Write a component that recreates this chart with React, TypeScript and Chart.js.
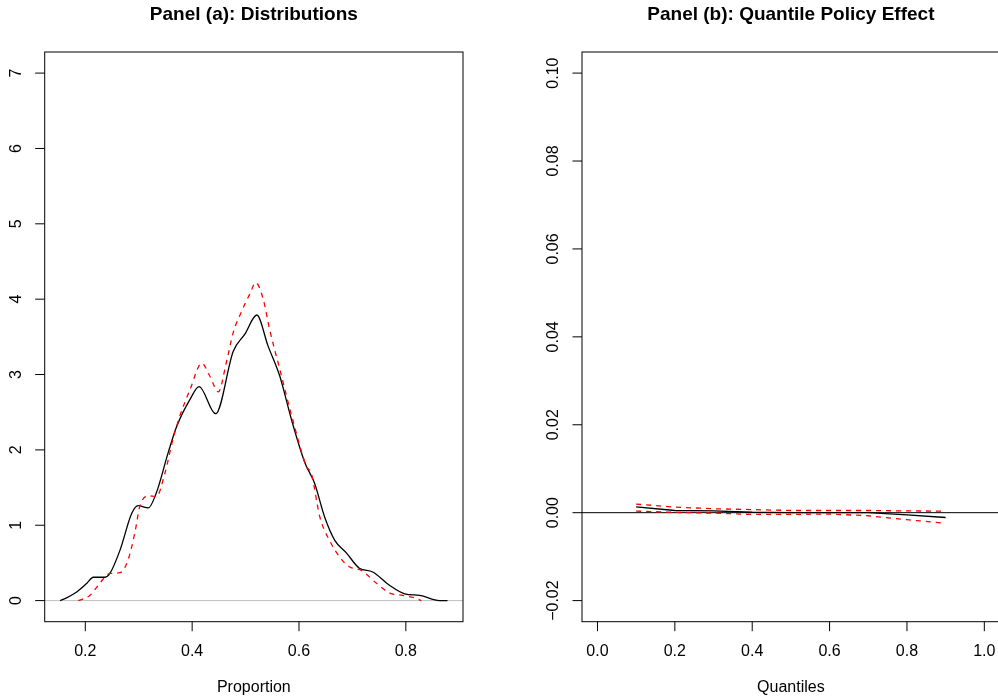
import { useEffect, useRef } from "react";
import { Chart, registerables } from "chart.js";
Chart.register(...registerables);

const FONT = '"Liberation Sans", Arial, Helvetica, sans-serif';

// ---------- Panel (a) data ----------
const baselineX = [0.153, 0.162, 0.181, 0.203, 0.215, 0.237, 0.246, 0.265, 0.287, 0.299, 0.318, 0.333, 0.355, 0.371, 0.396, 0.413, 0.444, 0.477, 0.499, 0.521, 0.542, 0.564, 0.586, 0.611, 0.629, 0.648, 0.667, 0.689, 0.713, 0.738, 0.770, 0.798, 0.826, 0.863, 0.878];
const baselineY = [0, 0.027, 0.10, 0.23, 0.31, 0.31, 0.36, 0.67, 1.16, 1.26, 1.23, 1.43, 1.96, 2.31, 2.67, 2.84, 2.48, 3.31, 3.54, 3.79, 3.38, 2.98, 2.40, 1.83, 1.56, 1.11, 0.80, 0.63, 0.43, 0.38, 0.20, 0.09, 0.07, 0.0, 0];
const policyX = [0.187, 0.195, 0.209, 0.227, 0.246, 0.265, 0.280, 0.293, 0.302, 0.318, 0.333, 0.349, 0.364, 0.377, 0.396, 0.418, 0.433, 0.449, 0.464, 0.477, 0.492, 0.508, 0.519, 0.533, 0.545, 0.564, 0.589, 0.614, 0.623, 0.639, 0.657, 0.676, 0.694, 0.717, 0.745, 0.770, 0.794, 0.819, 0.829];
const policyY = [0, 0.02, 0.07, 0.23, 0.36, 0.37, 0.54, 0.91, 1.25, 1.39, 1.38, 1.69, 2.14, 2.45, 2.80, 3.15, 2.98, 2.77, 3.16, 3.56, 3.83, 4.07, 4.22, 4.00, 3.60, 3.07, 2.38, 1.78, 1.69, 1.11, 0.80, 0.58, 0.45, 0.40, 0.23, 0.10, 0.07, 0.03, 0];

// ---------- Panel (b) data ----------
const quantiles = [0.1, 0.2, 0.3, 0.4, 0.5, 0.6, 0.7, 0.8, 0.9];
const effect = [0.0013, 0.0005, 0.0004, 0.0001, 0.0, 0.0, 0.0, -0.0005, -0.0011];
const upperBand = [0.00195, 0.00127, 0.0009, 0.0007, 0.0005, 0.0005, 0.0005, 0.0004, 0.00036];
const lowerBand = [0.00036, 0.00007, -0.0001, -0.0004, -0.0004, -0.0003, -0.0007, -0.0016, -0.0024];

// ---------- Text / ticks ----------
const panelATitle = "Panel (a): Distributions";
const panelBTitle = "Panel (b): Quantile Policy Effect";
const panelAXLabel = "Proportion";
const panelBXLabel = "Quantiles";
const panelAXTicks = [0.2, 0.4, 0.6, 0.8];
const panelAXTickLabels = ["0.2", "0.4", "0.6", "0.8"];
const panelAYTicks = [0, 1, 2, 3, 4, 5, 6, 7];
const panelAYTickLabels = ["0", "1", "2", "3", "4", "5", "6", "7"];
const panelBXTicks = [0, 0.2, 0.4, 0.6, 0.8, 1.0];
const panelBXTickLabels = ["0.0", "0.2", "0.4", "0.6", "0.8", "1.0"];
const panelBYTicks = [-0.02, 0, 0.02, 0.04, 0.06, 0.08, 0.1];
const panelBYTickLabels = ["\u22120.02", "0.00", "0.02", "0.04", "0.06", "0.08", "0.10"];

function pts(xs: number[], ys: number[]) {
  return xs.map((x, i) => ({ x, y: ys[i] }));
}

function makeDecor(cfg: {
  title: string;
  xLabel: string;
  xTicks: number[];
  xTickLabels: string[];
  yTicks: number[];
  yTickLabels: string[];
  zeroColor: string;
}) {
  return {
    id: "rdecor",
    beforeDatasetsDraw(chart: any) {
      const { ctx, chartArea, scales } = chart;
      const y0 = scales.y.getPixelForValue(0);
      ctx.save();
      ctx.strokeStyle = cfg.zeroColor;
      ctx.lineWidth = 1;
      ctx.beginPath();
      ctx.moveTo(chartArea.left, y0);
      ctx.lineTo(chartArea.right, y0);
      ctx.stroke();
      ctx.restore();
    },
    afterDraw(chart: any) {
      const { ctx, chartArea, scales } = chart;
      const { left, right, top, bottom } = chartArea;
      ctx.save();
      ctx.strokeStyle = "#000";
      ctx.lineWidth = 1;
      ctx.strokeRect(left, top, right - left, bottom - top);
      const tl = 9.5;
      ctx.fillStyle = "#000";
      ctx.font = `16px ${FONT}`;
      ctx.textAlign = "center";
      ctx.textBaseline = "middle";
      cfg.xTicks.forEach((v, i) => {
        const px = scales.x.getPixelForValue(v);
        ctx.beginPath();
        ctx.moveTo(px, bottom);
        ctx.lineTo(px, bottom + tl);
        ctx.stroke();
        ctx.fillText(cfg.xTickLabels[i], px, bottom + 29.5);
      });
      cfg.yTicks.forEach((v, i) => {
        const py = scales.y.getPixelForValue(v);
        ctx.beginPath();
        ctx.moveTo(left, py);
        ctx.lineTo(left - tl, py);
        ctx.stroke();
        ctx.save();
        ctx.translate(left - 28, py);
        ctx.rotate(-Math.PI / 2);
        ctx.fillText(cfg.yTickLabels[i], 0, 0);
        ctx.restore();
      });
      ctx.fillText(cfg.xLabel, (left + right) / 2, 688);
      ctx.font = `bold 19px ${FONT}`;
      ctx.fillText(cfg.title, (left + right) / 2, 15);
      ctx.restore();
    },
  };
}

function baseOptions(xmin: number, xmax: number, ymin: number, ymax: number, padding: any) {
  return {
    responsive: false,
    animation: false as const,
    layout: { padding },
    plugins: { legend: { display: false }, tooltip: { enabled: false }, title: { display: false } },
    elements: { point: { radius: 0 } },
    scales: {
      x: { type: "linear" as const, min: xmin, max: xmax, display: false },
      y: { type: "linear" as const, min: ymin, max: ymax, display: false },
    },
  };
}

export default function App() {
  const refA = useRef<HTMLCanvasElement>(null);
  const refB = useRef<HTMLCanvasElement>(null);

  useEffect(() => {
    const chartA = new Chart(refA.current!, {
      type: "line",
      data: {
        datasets: [
          {
            data: pts(policyX, policyY),
            borderColor: "#FF0000",
            borderWidth: 1.3,
            borderDash: [5, 5],
            cubicInterpolationMode: "monotone",
            fill: false,
            order: 0,
          },
          {
            data: pts(baselineX, baselineY),
            borderColor: "#000000",
            borderWidth: 1.3,
            cubicInterpolationMode: "monotone",
            fill: false,
            order: 1,
          },
        ],
      },
      options: baseOptions(0.124, 0.907, -0.28, 7.28, { left: 44.7, top: 52, right: 36, bottom: 76.3 }) as any,
      plugins: [
        makeDecor({
          title: panelATitle,
          xLabel: panelAXLabel,
          xTicks: panelAXTicks,
          xTickLabels: panelAXTickLabels,
          yTicks: panelAYTicks,
          yTickLabels: panelAYTickLabels,
          zeroColor: "#BEBEBE",
        }),
      ],
    });

    const chartB = new Chart(refB.current!, {
      type: "line",
      data: {
        datasets: [
          {
            data: pts(quantiles, upperBand),
            borderColor: "#FF0000",
            borderWidth: 1.3,
            borderDash: [5, 5],
            tension: 0,
            fill: false,
            order: 0,
          },
          {
            data: pts(quantiles, lowerBand),
            borderColor: "#FF0000",
            borderWidth: 1.3,
            borderDash: [5, 5],
            tension: 0,
            fill: false,
            order: 0,
          },
          {
            data: pts(quantiles, effect),
            borderColor: "#000000",
            borderWidth: 1.3,
            tension: 0,
            fill: false,
            order: 1,
          },
        ],
      },
      options: baseOptions(-0.04, 1.04, -0.0248, 0.1048, { left: 83, top: 52, right: 10.2, bottom: 76.3 }) as any,
      plugins: [
        makeDecor({
          title: panelBTitle,
          xLabel: panelBXLabel,
          xTicks: panelBXTicks,
          xTickLabels: panelBXTickLabels,
          yTicks: panelBYTicks,
          yTickLabels: panelBYTickLabels,
          zeroColor: "#000000",
        }),
      ],
    });

    return () => {
      chartA.destroy();
      chartB.destroy();
    };
  }, []);

  return (
    <div
      style={{
        position: "fixed",
        left: 0,
        top: 0,
        width: 998,
        height: 698,
        overflow: "hidden",
        background: "#fff",
      }}
    >
      <canvas
        ref={refA}
        width={499}
        height={698}
        style={{ position: "absolute", left: 0, top: 0, width: 499, height: 698 }}
      />
      <canvas
        ref={refB}
        width={511}
        height={698}
        style={{ position: "absolute", left: 499, top: 0, width: 511, height: 698 }}
      />
    </div>
  );
}
